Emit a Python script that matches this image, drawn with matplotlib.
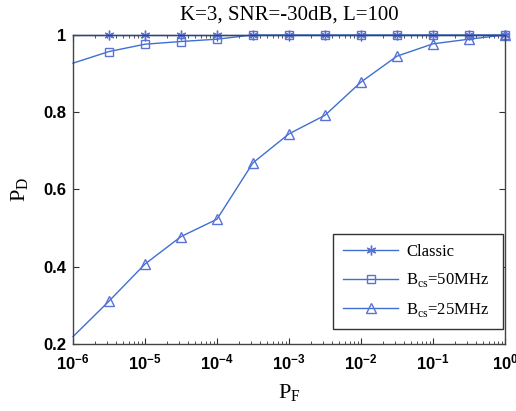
import numpy as np
import matplotlib
matplotlib.use('Agg')
import matplotlib.pyplot as plt
from matplotlib.lines import Line2D
from matplotlib.ticker import LogLocator, NullFormatter

plt.rcParams['mathtext.fontset'] = 'custom'
plt.rcParams['mathtext.rm'] = 'Liberation Serif'
plt.rcParams['mathtext.sf'] = 'Liberation Sans:bold'

# data (x at half-decade steps)
pf_exp = [-6, -5.5, -5, -4.5, -4, -3.5, -3, -2.5, -2, -1.5, -1, -0.5, 0]
pd_classic = [1, 1, 1, 1, 1, 1, 1, 1, 1, 1, 1, 1, 1]
pd_50 = [0.927, 0.957, 0.976, 0.983, 0.989, 1, 1, 1, 1, 1, 1, 1, 1]
pd_25 = [0.219, 0.311, 0.407, 0.478, 0.523, 0.669, 0.744, 0.792, 0.878, 0.945, 0.977, 0.989, 1.0]
labels = ['Classic', r'B$_{\mathrm{cs}}$=50MHz', r'B$_{\mathrm{cs}}$=25MHz']
title = 'K=3, SNR=-30dB, L=100'

pf = 10.0 ** np.array(pf_exp)
lc = '#3f6fd0'
mc = '#5a72d8'

fig = plt.figure(figsize=(5.16, 4.11), dpi=100)
ax = fig.add_axes([0.1415, 0.163, 0.837, 0.752])

series = [pd_classic, pd_50, pd_25]
markers = [(6, 2, 0), 's', '^']
msizes = [7, 6, 7.5]
for y, m, ms in zip(series, markers, msizes):
    ax.plot(pf, y, '-', color=lc, lw=1, clip_on=False)
    ax.plot(pf[1:], y[1:], ls='none', marker=m, ms=ms, mfc='none', mec=mc, mew=1, clip_on=False)

ax.set_xscale('log')
ax.set_xlim(1e-6, 1)
ax.set_ylim(0.2, 1)
ax.set_xticks(10.0 ** np.arange(-6, 1))
ax.set_xticklabels([r'$\mathsf{10^{%d}}$' % e for e in range(-6, 1)])
ax.xaxis.set_minor_locator(LogLocator(base=10, subs=np.arange(2, 10), numticks=20))
ax.xaxis.set_minor_formatter(NullFormatter())
ax.set_yticks([0.2, 0.4, 0.6, 0.8, 1.0])
ax.set_yticklabels(['0.2', '0.4', '0.6', '0.8', '1'], family='Liberation Sans', weight='bold')
ax.tick_params(which='both', direction='in', top=True, right=True, color='#333333', labelsize=12)
ax.tick_params(axis='y', pad=5)
ax.tick_params(axis='x', pad=7)
ax.tick_params(which='major', length=4)
ax.tick_params(which='minor', length=2)
for s in ax.spines.values():
    s.set_color('#444444')
    s.set_linewidth(1)

ax.set_title(title, family='Liberation Serif', fontsize=15, pad=11)
ax.set_xlabel(r'$\mathrm{P}_\mathrm{F}$', fontsize=16, labelpad=6)
ax.set_ylabel(r'$\mathrm{P}_\mathrm{D}$', fontsize=16, labelpad=9)

handles = [Line2D([], [], color=lc, lw=1, marker=m, ms=ms, mfc='none', mec=mc)
           for m, ms in zip(markers, msizes)]
leg = ax.legend(handles, labels, loc='lower left', bbox_to_anchor=(0.602, 0.0485, 0.393, 0.305),
                mode='expand', prop={'family': 'Liberation Serif', 'size': 12},
                handlelength=3.3, handletextpad=0.5, labelspacing=0.7, borderpad=0.6,
                borderaxespad=0, frameon=True, fancybox=False, framealpha=1,
                edgecolor='#333333')
leg.get_frame().set_linewidth(1)

fig.savefig('out.png', dpi=100)
